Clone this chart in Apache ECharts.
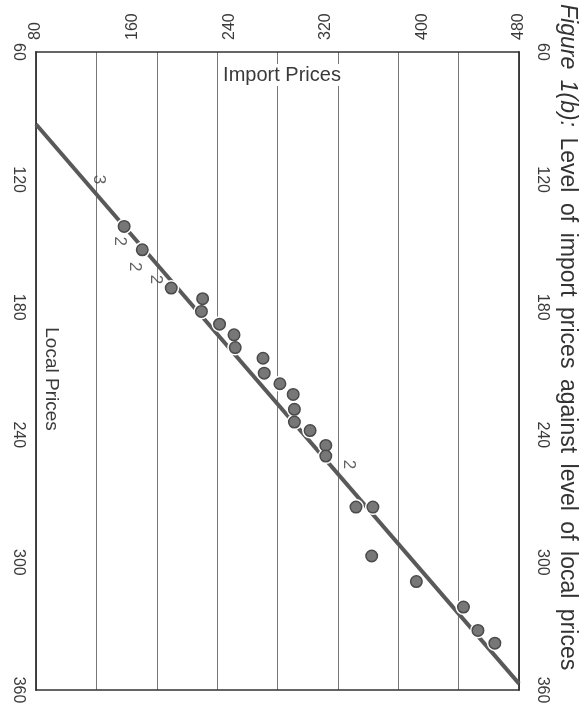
<!DOCTYPE html>
<html>
<head>
<meta charset="utf-8">
<script src="https://cdn.jsdelivr.net/npm/echarts@6/dist/echarts.min.js"></script>
<style>
html,body{margin:0;padding:0;background:#fff;}
#chart{width:583px;height:710px;}
</style>
</head>
<body>
<div id="chart"></div>
<script>
// Observations: import prices vs local prices
const importPrices = [153, 168, 192, 218, 217, 232, 244, 245, 268, 269, 282, 293, 294, 294, 307, 320, 320, 345, 359, 358, 395, 434, 446, 460];
const localPrices  = [142, 153, 171, 176, 182, 188, 193, 199, 204, 211, 216, 221, 228, 234, 238, 245, 250, 274, 274, 297, 309, 321, 332, 338];

// Fitted line end points
const fitImport = [80, 480];
const fitLocal  = [94, 357];

// Multiplicity annotations
const annotImport = [132, 149, 162, 179, 339];
const annotLocal  = [120, 149, 161, 167, 254];
const annotText   = ['3', '2', '2', '2', '2'];

// Tick labels
const importTicks = [80, 160, 240, 320, 400, 480];
const localTicks  = [60, 120, 180, 240, 300, 360];

const titleText = 'Level of import prices against level of local prices';
const titleLead = 'Figure 1(b):';

const FONT = '"Liberation Sans", Arial, Helvetica, sans-serif';

const dots = importPrices.map((v, i) => [v, localPrices[i]]);
const fit = fitImport.map((v, i) => [v, fitLocal[i]]);
const annots = annotImport.map((v, i) => ({ value: [v, annotLocal[i]], name: annotText[i] }));

// Title built as rich text, with slightly widened word spaces as in the printed figure
const titleWords = (titleLead + ' ' + titleText).split(' ');
const titleRich = titleWords.map((w, i) => (i < 2 ? '{i|' + w + '}' : '{t|' + w + '}')).join('{s| }');

const chart = echarts.init(document.getElementById('chart'));
const labelStyle = { color: '#3a3a3a', fontSize: 16, fontFamily: FONT };

chart.setOption({
  animation: false,
  backgroundColor: '#fff',
  grid: { left: 36, top: 52, width: 483, height: 638, containLabel: false },
  xAxis: [
    {
      type: 'value', position: 'top', min: importTicks[0], max: importTicks[importTicks.length - 1],
      interval: importTicks[1] - importTicks[0],
      axisLine: { show: true, lineStyle: { color: '#333', width: 1.5 } },
      axisTick: { show: false },
      splitLine: { show: false },
      axisLabel: Object.assign({ rotate: -90, margin: 12 }, labelStyle)
    },
    {
      type: 'value', position: 'bottom', min: importTicks[0], max: importTicks[importTicks.length - 1],
      interval: 50,
      axisLine: { show: true, lineStyle: { color: '#333', width: 1.5 } },
      axisTick: { show: false },
      axisLabel: { show: false },
      splitLine: { show: true, lineStyle: { color: '#777', width: 1 } }
    }
  ],
  yAxis: [
    {
      type: 'value', position: 'left', inverse: true, min: localTicks[0], max: localTicks[localTicks.length - 1],
      interval: localTicks[1] - localTicks[0],
      axisLine: { show: true, lineStyle: { color: '#333', width: 1.8 } },
      axisTick: { show: false },
      splitLine: { show: false },
      axisLabel: Object.assign({ rotate: -90, margin: 10 }, labelStyle)
    },
    {
      type: 'value', position: 'right', inverse: true, min: localTicks[0], max: localTicks[localTicks.length - 1],
      interval: localTicks[1] - localTicks[0],
      axisLine: { show: true, lineStyle: { color: '#333', width: 1.8 } },
      axisTick: { show: false },
      splitLine: { show: false },
      axisLabel: Object.assign({ rotate: -90, margin: 15 }, labelStyle)
    }
  ],
  series: [
    {
      type: 'line', xAxisIndex: 0, yAxisIndex: 0, data: fit, symbol: 'none', silent: true, z: 2,
      lineStyle: { color: '#595959', width: 4 }
    },
    {
      type: 'scatter', xAxisIndex: 0, yAxisIndex: 0, data: dots, symbolSize: 16, silent: true, z: 3,
      itemStyle: { color: '#fff', opacity: 1 }
    },
    {
      type: 'scatter', xAxisIndex: 0, yAxisIndex: 0, data: dots, symbolSize: 11.5, z: 4,
      itemStyle: { color: '#777', borderColor: '#4a4a4a', borderWidth: 1.5, opacity: 1 }
    },
    {
      type: 'scatter', xAxisIndex: 0, yAxisIndex: 0, data: annots, symbolSize: 0, silent: true, z: 5,
      label: {
        show: true, position: 'inside', formatter: p => p.name, rotate: -90,
        color: '#3a3a3a', fontSize: 17, fontFamily: FONT
      }
    }
  ],
  graphic: [
    {
      type: 'text', x: 567, y: 4, rotation: -Math.PI / 2, z: 100,
      style: {
        text: titleRich,
        fill: '#333', fontSize: 23, fontFamily: FONT,
        textAlign: 'left', textVerticalAlign: 'middle',
        rich: {
          i: { fontStyle: 'italic', fontSize: 23, fontFamily: FONT, fill: '#333' },
          t: { fontSize: 23, fontFamily: FONT, fill: '#333' },
          s: { fontSize: 23, fontFamily: FONT, width: 10.5 }
        }
      }
    },
    {
      type: 'text', x: 282, y: 75, z: 100,
      style: {
        text: 'Import Prices', fill: '#3a3a3a', fontSize: 20, fontFamily: FONT,
        textAlign: 'center', textVerticalAlign: 'middle',
        backgroundColor: '#fff', padding: [1, 2]
      }
    },
    {
      type: 'text', x: 51, y: 379, rotation: -Math.PI / 2, z: 100,
      style: {
        text: 'Local Prices', fill: '#3a3a3a', fontSize: 19, fontFamily: FONT,
        textAlign: 'center', textVerticalAlign: 'middle'
      }
    }
  ]
});
</script>
</body>
</html>
